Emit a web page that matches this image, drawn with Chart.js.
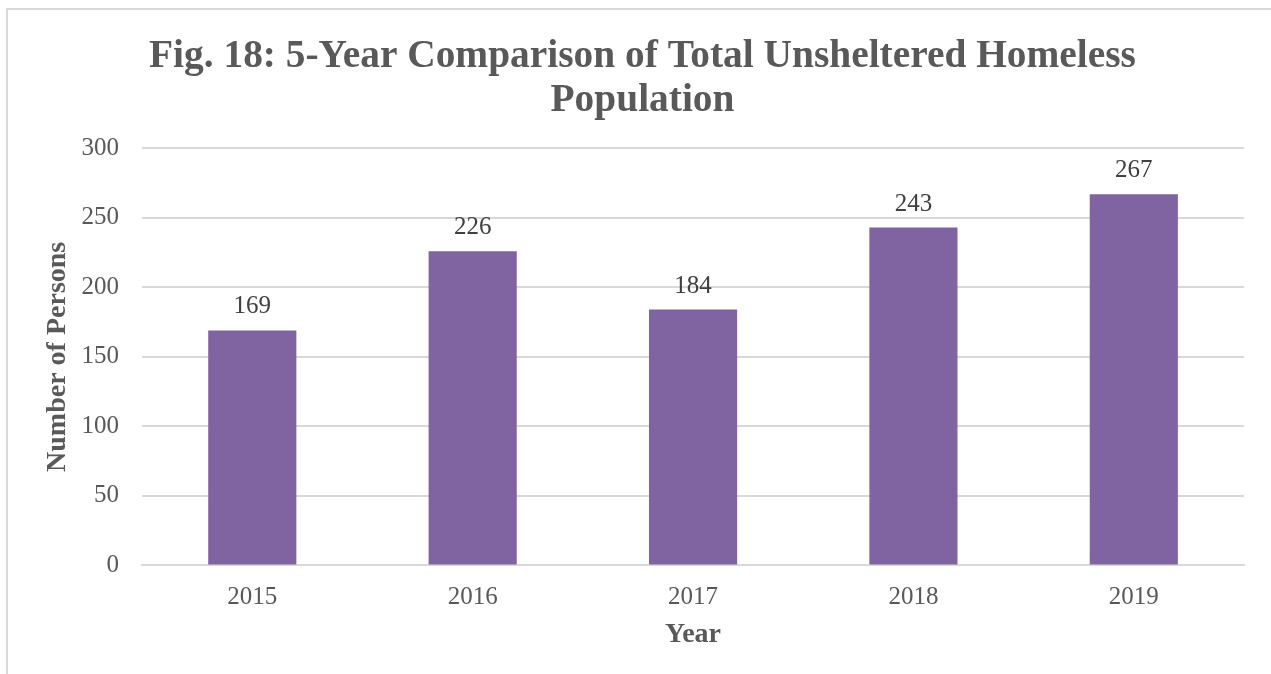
<!DOCTYPE html>
<html>
<head>
<meta charset="utf-8">
<script src="https://cdn.jsdelivr.net/npm/chart.js@4/dist/chart.umd.min.js"></script>
<style>
    html, body { margin: 0; padding: 0; background: #fff; }
    .wrap { position: relative; width: 1271px; height: 674px; overflow: hidden; }
    .frame { position: absolute; left: 6px; top: 8px; width: 1400px; height: 800px; border: 2px solid #d9d9d9; pointer-events: none; }
</style>
</head>
<body>
<div class="wrap">
    <canvas id="chart" width="1271" height="674"></canvas>
    <div class="frame"></div>
</div>
<script>
var years = ['2015', '2016', '2017', '2018', '2019'];
var persons = [169, 226, 184, 243, 267];
var titleLines = ['Fig. 18: 5-Year Comparison of Total Unsheltered Homeless', 'Population'];
var yTitle = 'Number of Persons';
var xTitle = 'Year';

var serif = "'Liberation Serif', 'Times New Roman', serif";

// value labels above the bars
var barLabels = {
    id: 'barLabels',
    afterDatasetsDraw: function (chart) {
        var ctx = chart.ctx;
        var meta = chart.getDatasetMeta(0);
        ctx.save();
        ctx.font = '25px ' + serif;
        ctx.fillStyle = '#404040';
        ctx.textAlign = 'center';
        ctx.textBaseline = 'alphabetic';
        meta.data.forEach(function (bar, i) {
            ctx.fillText(persons[i], bar.x, bar.y - 17);
        });
        ctx.restore();
    }
};

var ctx = document.getElementById('chart');
var myChart = new Chart(ctx, {
    type: 'bar',
    data: {
        labels: years,
        datasets: [{
            label: 'Unsheltered',
            data: persons,
            backgroundColor: '#8064a2',
            borderWidth: 0,
            categoryPercentage: 1,
            barPercentage: 0.4
        }]
    },
    options: {
        responsive: false,
        animation: false,
        layout: { padding: { left: 41, right: 27, top: 35, bottom: 22 } },
        plugins: {
            legend: { display: false },
            tooltip: { enabled: false },
            title: {
                display: true,
                text: titleLines,
                color: '#595959',
                font: { family: serif, size: 39.4, weight: 'bold', lineHeight: 1.12 },
                padding: { top: 0, bottom: 25 }
            }
        },
        scales: {
            x: {
                grid: { display: false },
                border: { color: '#d9d9d9', width: 2 },
                ticks: { color: '#595959', font: { family: serif, size: 25 }, padding: 9 },
                title: {
                    display: true,
                    text: xTitle,
                    color: '#595959',
                    font: { family: serif, size: 28, weight: 'bold' },
                    padding: { top: -3, bottom: 0 }
                }
            },
            y: {
                min: 0,
                max: 300,
                ticks: { stepSize: 50, color: '#595959', font: { family: serif, size: 25 }, padding: 23 },
                grid: { color: '#d9d9d9', lineWidth: 2, drawTicks: false },
                border: { display: false },
                title: {
                    display: true,
                    text: yTitle,
                    color: '#595959',
                    font: { family: serif, size: 28, weight: 'bold' },
                    padding: { top: 0, bottom: -16 }
                }
            }
        }
    },
    plugins: [barLabels]
});
</script>
</body>
</html>
